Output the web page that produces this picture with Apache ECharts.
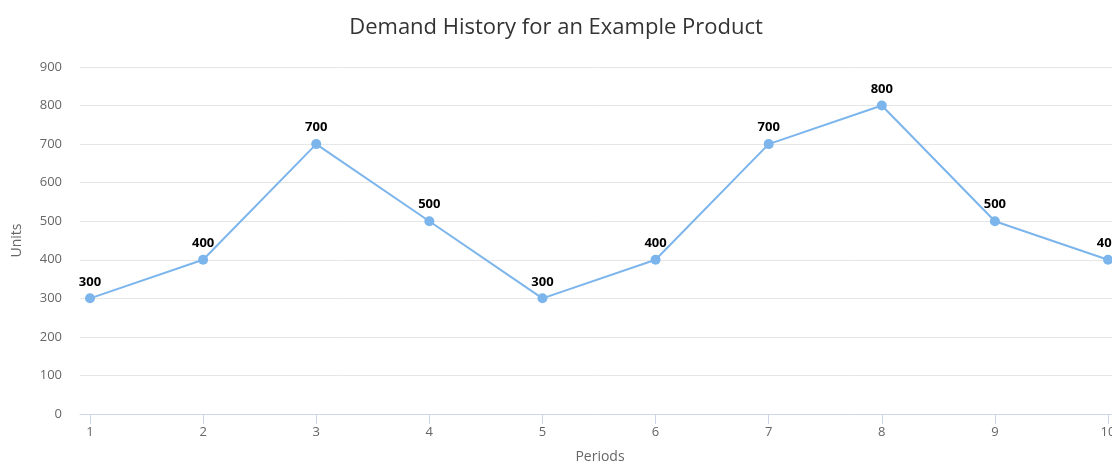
<!DOCTYPE html>
<html>
<head>
<meta charset="utf-8">
<script src="https://cdn.jsdelivr.net/npm/echarts@6/dist/echarts.min.js"></script>
<style>
  html, body { margin: 0; padding: 0; background: #fff; }
  #chart { width: 1112px; height: 465px; }
</style>
</head>
<body>
<div id="chart"></div>
<script>
// Demand per period
const periods = [1, 2, 3, 4, 5, 6, 7, 8, 9, 10];
const demand = [300, 400, 700, 500, 300, 400, 700, 800, 500, 400];
const yTicks = [0, 100, 200, 300, 400, 500, 600, 700, 800, 900];

const FONT = '"Open Sans", "Noto Sans", sans-serif';
const chart = echarts.init(document.getElementById('chart'), null, { renderer: 'canvas' });

chart.setOption({
  animation: false,
  backgroundColor: '#ffffff',
  title: {
    text: 'Demand History for an Example Product',
    left: 'center',
    top: 12,
    textStyle: { fontFamily: FONT, fontSize: 22, fontWeight: 'normal', color: '#333333' }
  },
  grid: { left: 80, right: -8, top: 67, bottom: 51, outerBoundsMode: 'none', containLabel: false },
  xAxis: {
    type: 'value',
    min: 0.9116,
    max: 10.106,
    name: 'Periods',
    nameLocation: 'middle',
    nameGap: 36,
    nameTextStyle: { fontFamily: FONT, fontSize: 14, color: '#666666' },
    axisLine: { show: true, lineStyle: { color: '#ccd6eb', width: 1 } },
    axisTick: { show: true, length: 10, lineStyle: { color: '#ccd6eb' }, customValues: periods },
    axisLabel: { customValues: periods, margin: 12, fontFamily: FONT, fontSize: 13, color: '#666666' },
    splitLine: { show: false }
  },
  yAxis: {
    type: 'value',
    min: 0,
    max: 900,
    interval: 100,
    name: 'Units',
    nameLocation: 'middle',
    nameGap: 56,
    nameRotate: 90,
    nameTextStyle: { fontFamily: FONT, fontSize: 14, color: '#666666' },
    axisLine: { show: false },
    axisTick: { show: false },
    axisLabel: {
      customValues: yTicks,
      margin: 18,
      fontFamily: FONT, fontSize: 13, color: '#666666'
    },
    splitLine: { show: true, lineStyle: { color: '#e6e6e6', width: 1 } }
  },
  series: [{
    type: 'line',
    data: periods.map((p, i) => [p, demand[i]]),
    lineStyle: { color: '#7cb5ec', width: 2 },
    itemStyle: { color: '#7cb5ec' },
    symbol: 'circle',
    symbolSize: 10,
    clip: false,
    label: {
      show: true,
      position: 'top',
      distance: 5,
      formatter: p => String(p.value[1]),
      fontFamily: FONT,
      fontSize: 13,
      fontWeight: 'bold',
      color: '#000000',
      textBorderColor: '#ffffff',
      textBorderWidth: 1
    }
  }]
});
</script>
</body>
</html>
